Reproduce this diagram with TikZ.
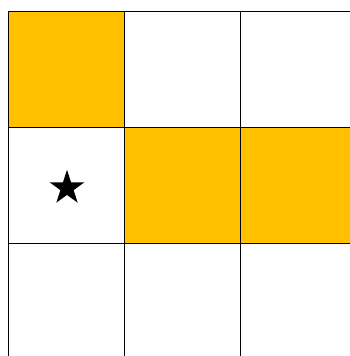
\documentclass[tikz,border=0pt]{standalone}
\definecolor{gold}{HTML}{FFC000}
\begin{document}
\begin{tikzpicture}[x=1pt,y=-1pt,gridline/.style={draw=black,line width=0.9pt}]
\useasboundingbox (0,0) rectangle (349,356);
\fill[gold] (8,11) rectangle (124,127);
\fill[gold] (124,127) rectangle (360,243);
\foreach \x in {8,124,240} \draw[gridline] (\x,11) -- (\x,360);
\foreach \y in {11,127,243} \draw[gridline] (8,\y) -- (360,\y);
\fill[black] plot[samples at={0,...,9}] ({67+ifthenelse(mod(\x,2)==0,18.2,6.95)*cos(90+36*\x)},{188-ifthenelse(mod(\x,2)==0,18.2,6.95)*sin(90+36*\x)}) -- cycle;
\end{tikzpicture}
\end{document}
